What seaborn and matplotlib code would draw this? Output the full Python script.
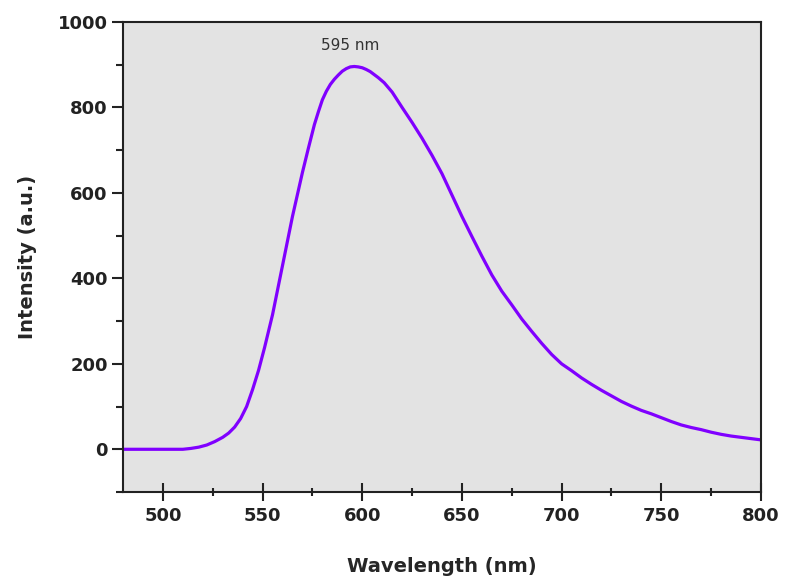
import numpy as np
import pandas as pd
import matplotlib
matplotlib.use("Agg")
import matplotlib.pyplot as plt
import seaborn as sns
from matplotlib.ticker import MultipleLocator

wavelength = [480, 485, 490, 495, 500, 505, 510, 514, 518, 522, 526, 530, 533,
              536, 539, 542, 545, 548, 551, 555, 560, 565, 570, 573, 576, 578,
              580, 582, 584, 586, 588, 590, 592, 594, 596, 598, 600, 602, 604,
              606, 608, 611, 615, 620, 625, 630, 635, 640, 645, 650, 655, 660,
              665, 670, 675, 680, 685, 690, 695, 700, 705, 710, 715, 720, 725,
              730, 735, 740, 745, 750, 755, 760, 765, 770, 775, 780, 785, 790,
              795, 800]
intensity = [0, 0, 0, 0, 0, 0, 0, 2, 5, 10, 18, 28, 38,
             52, 72, 100, 140, 185, 238, 315, 430, 545, 648, 705, 760, 790,
             818, 838, 854, 866, 876, 885, 891, 895, 896, 895, 893, 889, 884,
             877, 870, 858, 836, 800, 765, 728, 688, 645, 595, 545, 498, 452,
             408, 370, 338, 305, 276, 248, 222, 200, 184, 167, 152, 138, 125,
             112, 101, 91, 83, 74, 65, 57, 51, 46, 40, 35, 31, 28,
             25, 22]
peak_label = "595 nm"

df = pd.DataFrame({"Wavelength": wavelength, "Intensity": intensity})

sns.set_style("ticks", {"axes.facecolor": "#e3e3e3"})
plt.rcParams["font.family"] = ["DejaVu Sans"]

fig = plt.figure(figsize=(7.85, 5.8), dpi=100)
ax = fig.add_axes([0.1567, 0.1517, 0.8127, 0.8103])
sns.lineplot(data=df, x="Wavelength", y="Intensity", ax=ax, color="#8000ff",
             linewidth=2.3)

ax.set_xlim(480, 800)
ax.set_ylim(-100, 1000)
ax.xaxis.set_major_locator(MultipleLocator(50))
ax.xaxis.set_minor_locator(MultipleLocator(25))
ax.yaxis.set_major_locator(MultipleLocator(200))
ax.yaxis.set_minor_locator(MultipleLocator(100))

for s in ax.spines.values():
    s.set_linewidth(1.5)
    s.set_color("#222222")

ax.tick_params(axis="x", which="major", direction="inout", length=13, width=1.5,
               labelsize=13, pad=4, colors="#222222")
ax.tick_params(axis="x", which="minor", direction="inout", length=6, width=1.5,
               colors="#222222")
ax.tick_params(axis="y", which="major", direction="out", length=8, width=1.5,
               labelsize=13, pad=3, colors="#222222")
ax.tick_params(axis="y", which="minor", direction="out", length=5, width=1.5,
               colors="#222222")
for lab in ax.get_xticklabels() + ax.get_yticklabels():
    lab.set_fontweight("bold")

ax.set_xlabel("Wavelength (nm)", fontsize=14, fontweight="bold", labelpad=23)
ax.set_ylabel("Intensity (a.u.)", fontsize=14, fontweight="bold", labelpad=15)

ax.text(594, 946, peak_label, ha="center", va="center", fontsize=11,
        color="#333333")

fig.savefig("out.png", dpi=100)
